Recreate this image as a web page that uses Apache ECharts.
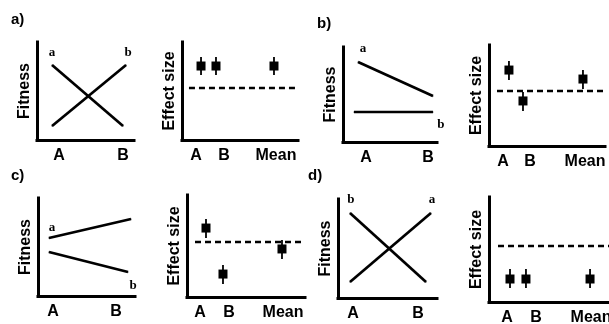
<!DOCTYPE html>
<html><head><meta charset="utf-8">
<script src="https://cdn.jsdelivr.net/npm/echarts@6/dist/echarts.min.js"></script>
<style>html,body{margin:0;padding:0;background:#fff}#c{width:609px;height:324px}</style>
</head><body><div id="c"></div>
<script>
// ---- data (conceptual units 0..100 on each panel's axes) ----
const panelTags = ['a)', 'b)', 'c)', 'd)'];
const fitnessName = 'Fitness';
const effectName = 'Effect size';
const fitnessTicks = ['A', 'B'];
const fitnessTickX = [[22.7, 88.7], [24.5, 90.4], [15.5, 80.4], [15.2, 80.8]];
const lineAPoints = [[[15.5, 76.5], [88.7, 14.3]], [[16, 84.2], [95.7, 48.4]], [[11.3, 59.2], [95.9, 78.6]], [[12.1, 16.2], [93.9, 85.9]]];
const lineBPoints = [[[15.5, 14.3], [91.8, 76.5]], [[11.7, 31.6], [95.7, 31.6]], [[11.3, 44.9], [92.8, 24.5]], [[12.1, 85.9], [88.9, 16.2]]];
const lineNames = ['a', 'b'];
const effectTicks = ['A', 'B', 'Mean'];
const effectTickX = [[12.1, 36.2, 81], [12.1, 35.3, 82.8], [11, 35.6, 81.4], [15, 39.2, 85]];
const effectX = [[16.4, 29.3, 79.3], [17.2, 29.3, 81], [16.1, 30.5, 80.5], [17.5, 30.8, 84.2]];
const effectMid = [[75.5, 75.5, 75.5], [75.2, 44.6, 66.3], [67.6, 22.5, 47.1], [21.9, 21.9, 21.9]];
const effectLow = [[66.3, 66.3, 66.3], [65.3, 34.7, 56.4], [57.8, 12.7, 37.3], [13.3, 13.3, 13.3]];
const effectHigh = [[84.7, 84.7, 84.7], [84.2, 53.5, 75.2], [76.5, 31.4, 55.9], [31.4, 31.4, 31.4]];
const baseline = [53, 54.5, 53.9, 53.3];
const baselineStart = [6, 6.9, 6.8, 7.5];

// ---- layout ----
const fitGrids = [
  {left: 37, top: 42, width: 97, height: 98},
  {left: 343, top: 47, width: 94, height: 95},
  {left: 38, top: 198, width: 97, height: 98},
  {left: 338, top: 199, width: 99, height: 99}
];
const effGrids = [
  {left: 182, top: 42, width: 116, height: 98},
  {left: 489, top: 45, width: 116, height: 101},
  {left: 187, top: 195, width: 118, height: 102},
  {left: 489, top: 197, width: 120, height: 105}
];
const tagPos = [{left: 11, top: 12}, {left: 317, top: 16}, {left: 11, top: 168}, {left: 308, top: 168}];
// which end of each line carries its letter, and label placement
const labA = [
  {idx: 0, position: 'top', distance: 5, offset: [0, 0]},
  {idx: 0, position: 'top', distance: 6, offset: [5, 0]},
  {idx: 0, position: 'top', distance: 3, offset: [3, 0]},
  {idx: 1, position: 'top', distance: 6, offset: [1, 0]}
];
const labB = [
  {idx: 1, position: 'top', distance: 5, offset: [2, 0]},
  {idx: 1, position: 'bottom', distance: 6, offset: [8, 0]},
  {idx: 1, position: 'bottom', distance: 7, offset: [5, 0]},
  {idx: 0, position: 'top', distance: 6, offset: [1, 0]}
];

const SANS = 'Liberation Sans, Arial, sans-serif';
const SERIF = 'Liberation Serif, Times New Roman, serif';
const axisLine = {show: true, onZero: false, lineStyle: {color: '#000', width: 3, cap: 'square'}};

const grid = [], xAxis = [], yAxis = [], series = [], title = [];
panelTags.forEach((t, i) => {
  title.push({text: t, left: tagPos[i].left, top: tagPos[i].top, padding: 0,
    textStyle: {fontFamily: SANS, fontSize: 15, fontWeight: 'bold', color: '#000'}});
});

function addPanel(g, yName, ticks, tickX) {
  const gi = grid.length;
  grid.push(Object.assign({containLabel: false, outerBoundsMode: 'none'}, g));
  xAxis.push({type: 'value', gridIndex: gi, min: 0, max: 100, axisLine,
    axisTick: {show: false}, splitLine: {show: false},
    axisLabel: {show: true, customValues: tickX, margin: 8, color: '#000',
      fontFamily: SANS, fontSize: 16, fontWeight: 'bold',
      formatter: v => ticks[tickX.indexOf(v)] || ''}});
  yAxis.push({type: 'value', gridIndex: gi, min: 0, max: 100, axisLine,
    axisTick: {show: false}, splitLine: {show: false}, axisLabel: {show: false},
    name: yName, nameLocation: 'middle', nameRotate: 90, nameGap: 4,
    nameTextStyle: {fontFamily: SANS, fontSize: 16, fontWeight: 'bold', color: '#000'}});
  return gi;
}

function lineData(pts, name, lab) {
  return pts.map((p, k) => k === lab.idx ? {value: p, label: {show: true, formatter: name,
    position: lab.position, distance: lab.distance, offset: lab.offset,
    fontFamily: SERIF, fontWeight: 'bold', fontSize: 13, color: '#000'}} : {value: p});
}

for (let i = 0; i < 4; i++) {
  // fitness panel
  const fi = addPanel(fitGrids[i], fitnessName, fitnessTicks, fitnessTickX[i]);
  [[lineAPoints[i], lineNames[0], labA[i]], [lineBPoints[i], lineNames[1], labB[i]]].forEach(([pts, nm, lab]) => {
    series.push({type: 'line', xAxisIndex: fi, yAxisIndex: fi, clip: false,
      symbol: 'circle', symbolSize: 1, itemStyle: {color: '#000'},
      lineStyle: {color: '#000', width: 2.7}, data: lineData(pts, nm, lab)});
  });
  // effect-size panel
  const ei = addPanel(effGrids[i], effectName, effectTicks, effectTickX[i]);
  series.push({type: 'line', xAxisIndex: ei, yAxisIndex: ei, symbol: 'none', clip: false,
    lineStyle: {color: '#000', width: 2.4, type: [6, 4]},
    data: [[baselineStart[i], baseline[i]], [100, baseline[i]]]});
  series.push({type: 'custom', xAxisIndex: ei, yAxisIndex: ei,
    data: effectX[i].map((x, k) => [x, effectLow[i][k], effectHigh[i][k]]),
    encode: {x: 0, y: [1, 2]},
    renderItem: (params, api) => {
      const p1 = api.coord([api.value(0), api.value(1)]);
      const p2 = api.coord([api.value(0), api.value(2)]);
      return {type: 'line', shape: {x1: p1[0], y1: p1[1], x2: p2[0], y2: p2[1]},
        style: {stroke: '#000', lineWidth: 1.8}};
    }});
  series.push({type: 'scatter', xAxisIndex: ei, yAxisIndex: ei, symbol: 'rect', symbolSize: [9, 9],
    itemStyle: {color: '#000', opacity: 1}, z: 5,
    data: effectX[i].map((x, k) => [x, effectMid[i][k]])});
}

const chart = echarts.init(document.getElementById('c'), null, {renderer: 'canvas'});
chart.setOption({animation: false, backgroundColor: '#fff', title, grid, xAxis, yAxis, series});
</script>
</body></html>
